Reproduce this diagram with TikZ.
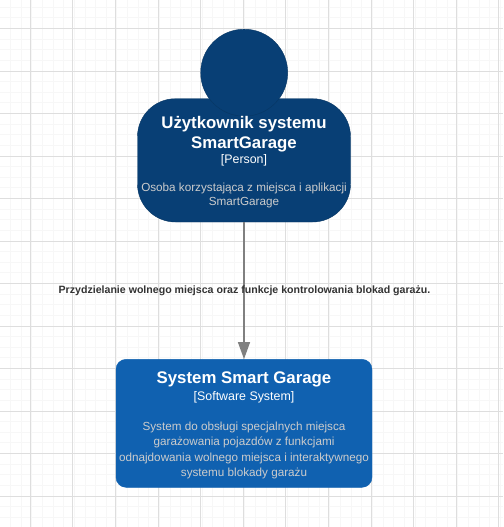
\documentclass[tikz,border=0pt]{standalone}
\usepackage{fontspec}
\setmainfont{Liberation Sans}
\usetikzlibrary{arrows.meta}
\definecolor{personblue}{HTML}{083F75}
\definecolor{systemblue}{HTML}{1061B0}
\definecolor{gridmajor}{HTML}{DEDEDE}
\definecolor{gridminor}{HTML}{F7F7F7}
\definecolor{desctext}{HTML}{CCCCCC}
\tikzset{
  titletext/.style={text=white,font=\fontsize{16.8}{20}\selectfont\bfseries,align=center,inner sep=0pt},
  tagtext/.style={text=white,font=\fontsize{12.4}{15}\selectfont,align=center,inner sep=0pt},
  desctxt/.style={text=desctext,font=\fontsize{11.7}{14}\selectfont,align=center,inner sep=0pt},
  linktext/.style={text=black!80,font=\fontsize{10.6}{13}\selectfont\bfseries,inner sep=0pt}
}
\begin{document}
\begin{tikzpicture}[x=1pt,y=-1pt]
\useasboundingbox (0,0) rectangle (503,527);
\fill [white] (0,0) rectangle (503,527);
% grid
\foreach \i in {0,...,47} {
  \draw [gridminor,line width=1pt] ({-0.2+10.65*\i},0) -- ++(0,527);
}
\foreach \i in {0,...,50} {
  \draw [gridminor,line width=1pt] (0,{7.25+10.625*\i}) -- ++(503,0);
}
\foreach \i in {0,...,11} {
  \draw [gridmajor,line width=1pt] ({30.3+42.6*\i},0) -- ++(0,527);
}
\foreach \i in {0,...,11} {
  \draw [gridmajor,line width=1pt] (0,{28.5+42.5*\i}) -- ++(503,0);
}
% person
\draw [personblue!85!black,fill=personblue,rounded corners=38pt] (137.5,98.7) rectangle (350.5,222);
\coordinate (bodybottom) at (244,222);
\draw [personblue!85!black,fill=personblue] (244.2,72.7) circle (43.5pt);
\node [titletext] (persontitle) at (244,134) {Użytkownik systemu\\SmartGarage};
\node [tagtext] (persontag) at (244,160) {[Person]};
\node [desctxt] (persondesc) at (244,195) {Osoba korzystająca z miejsca i aplikacji\\SmartGarage};
% system
\node [draw=systemblue,fill=systemblue,rounded corners=10pt,minimum width=256pt,minimum height=128pt,inner sep=0pt] (system) at (244,423.3) {};
\node [titletext] (systemtitle) at (244,379.5) {System Smart Garage};
\node [tagtext] (systemtag) at (244,397.5) {[Software System]};
\node [desctxt,font=\fontsize{11.7}{15.6}\selectfont] (systemdesc) at (244,450.5) {System do obsługi specjalnych miejsca\\garażowania pojazdów z funkcjami\\odnajdowania wolnego miejsca i interaktywnego\\systemu blokady garażu};
% link
\draw [-{Triangle[length=17pt,width=12pt]},line width=1.3pt,draw=black!50] (bodybottom) -- (system.north);
\node [linktext] (linklabel) at (244.5,291) {Przydzielanie wolnego miejsca oraz funkcje kontrolowania blokad garażu.};
\end{tikzpicture}
\end{document}
